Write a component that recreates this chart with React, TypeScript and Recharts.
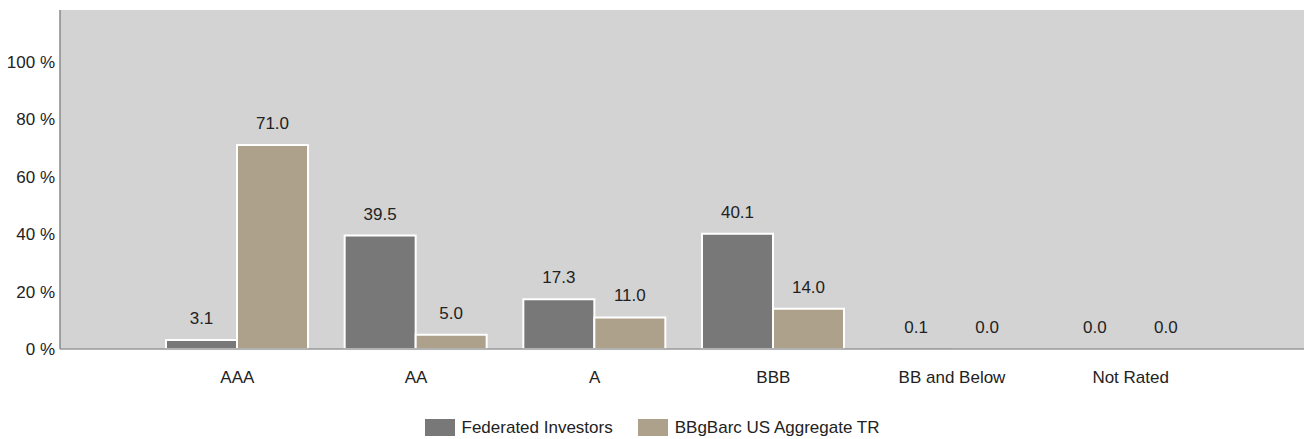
import React from 'react';
import { BarChart, Bar, XAxis, YAxis, CartesianGrid, Legend, LabelList, Cell } from 'recharts';

const categories = ['AAA', 'AA', 'A', 'BBB', 'BB and Below', 'Not Rated'];
const federated = [3.1, 39.5, 17.3, 40.1, 0.1, 0.0];
const benchmark = [71.0, 5.0, 11.0, 14.0, 0.0, 0.0];
const yTicks = [0, 20, 40, 60, 80, 100];
const seriesNames = ['Federated Investors', 'BBgBarc US Aggregate TR'];

const GRAY = '#787878';
const TAN = '#ADA18B';
const FONT = '"Liberation Sans", Arial, sans-serif';
const FS = 17;

const data = categories.map((c, i) => ({ name: c, fed: federated[i], bench: benchmark[i] }));

const LegendContent = () => (
  <div style={{ height: 50, paddingTop: 30, boxSizing: 'border-box', display: 'flex', justifyContent: 'center', fontFamily: FONT, fontSize: FS, color: '#222' }}>
    {[GRAY, TAN].map((col, i) => (
      <div key={i} style={{ display: 'flex', alignItems: 'center', height: 17, marginLeft: i ? 25 : 0 }}>
        <div style={{ width: 30, height: 17, background: col, marginRight: 7 }} />
        <span style={{ lineHeight: '17px' }}>{seriesNames[i]}</span>
      </div>
    ))}
  </div>
);

const minSize = (v: number) => (v === 0 ? 0.01 : 0);
const fmt = (v: number) => Number(v).toFixed(1);
const labelStyle = { fill: '#222', fontSize: FS, fontFamily: FONT };

export default function App() {
  return (
    <div style={{ position: 'absolute', left: 0, top: 0, width: 1306, height: 439, background: '#fff' }}>
      <BarChart width={1306} height={439} data={data} margin={{ top: 10, right: 2, left: 0, bottom: 0 }} barCategoryGap={18} barGap={0}>
        <CartesianGrid horizontal={false} vertical={false} fill="#D3D3D3" />
        <XAxis dataKey="name" padding={{ left: 88, right: 84 }} height={40} tickSize={0} tickMargin={22}
          axisLine={{ stroke: '#999', strokeWidth: 1.5 }}
          tick={{ fill: '#222', fontSize: FS, fontFamily: FONT }} interval={0} />
        <XAxis xAxisId="top" orientation="top" dataKey="name" height={0} tick={false} tickSize={0}
          axisLine={{ stroke: '#888', strokeWidth: 2 }} />
        <YAxis domain={[0, 118]} ticks={yTicks} width={60} tickSize={0} tickMargin={5}
          tickFormatter={(v: number) => `${v} %`}
          axisLine={{ stroke: '#888', strokeWidth: 1.5 }}
          tick={{ fill: '#222', fontSize: FS, fontFamily: FONT }} />
        <YAxis yAxisId="right" orientation="right" domain={[0, 118]} width={0} tick={false} tickSize={0}
          axisLine={{ stroke: '#999', strokeWidth: 1.5 }} />
        <Legend verticalAlign="bottom" content={<LegendContent />} />
        <Bar dataKey="fed" name={seriesNames[0]} fill={GRAY} stroke="#fff" strokeWidth={2} minPointSize={minSize} isAnimationActive={false}>
          {federated.map((v, i) => <Cell key={i} stroke={v < 0.5 ? 'none' : '#fff'} />)}
          <LabelList dataKey="fed" position="top" offset={16} formatter={fmt} style={labelStyle} />
        </Bar>
        <Bar dataKey="bench" name={seriesNames[1]} fill={TAN} stroke="#fff" strokeWidth={2} minPointSize={minSize} isAnimationActive={false}>
          {benchmark.map((v, i) => <Cell key={i} stroke={v < 0.5 ? 'none' : '#fff'} />)}
          <LabelList dataKey="bench" position="top" offset={16} formatter={fmt} style={labelStyle} />
        </Bar>
      </BarChart>
    </div>
  );
}
